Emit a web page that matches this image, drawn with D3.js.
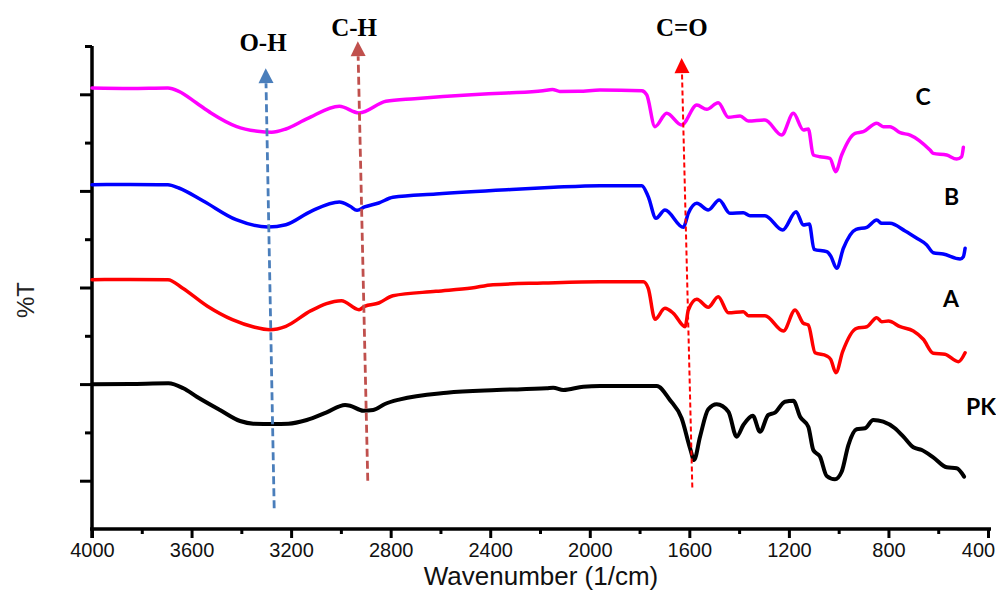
<!DOCTYPE html>
<html><head><meta charset="utf-8">
<script src="https://cdn.jsdelivr.net/npm/d3@7"></script>
<style>html,body{margin:0;padding:0;background:#fff;} svg{display:block}</style>
</head><body><svg id="chart" width="996" height="594"></svg>
<script>
// ---------- DATA ----------
const xTickLabels = [4000,3600,3200,2800,2400,2000,1600,1200,800,400];
const seriesNames = ["C","B","A","PK"];

const wnC = [4000,3847,3695,3651,3580,3522,3421,3335,3278,3221,3135,3006,2927,2819,2704,2475,2333,2188,2150,2120,2044,1959,1791,1771,1738,1691,1631,1570,1530,1484,1443,1396,1363,1296,1229,1182,1142,1122,1102,1075,1035,1012,988,934,901,847,821,794,753,713,633,620,566,526,506,499];
const tC  = [91.3,91.2,91.3,90.62,88.2,86.13,83.37,82.34,82.13,82.82,84.95,87.52,86.13,88.55,89.09,89.92,90.27,90.75,91.0,90.6,90.62,90.89,90.75,89.86,83.29,86.07,83.64,87.78,86.89,88.26,85.24,85.51,84.47,84.68,81.57,86.07,82.61,82.82,77.43,77.08,76.75,73.98,77.43,81.92,82.26,84.0,83.29,83.29,82.05,81.57,78.47,77.78,77.43,76.6,77.08,79.03];

const wnB = [4000,3847,3695,3651,3551,3421,3293,3221,3120,3006,2963,2935,2905,2848,2791,2618,2333,2145,1959,1791,1765,1734,1698,1624,1604,1570,1524,1480,1437,1383,1356,1296,1225,1171,1142,1118,1099,1048,1032,1008,981,930,887,847,827,794,733,686,646,620,580,512,499,492];
const tB  = [71.28,71.32,71.28,70.6,67.85,64.04,62.53,63.0,65.78,67.7,66.81,65.98,66.67,67.49,68.68,69.36,70.25,70.75,71.08,71.08,68.8,64.33,66.05,62.46,65.36,67.43,66.05,68.12,65.36,65.49,64.87,64.87,61.9,65.69,62.94,63.15,57.91,57.41,56.52,53.98,58.12,62.05,62.46,63.98,63.29,63.29,61.7,60.19,58.8,57.2,56.94,55.9,56.38,58.12];

const wnA = [4000,3847,3695,3637,3536,3436,3350,3285,3221,3120,2998,2927,2905,2848,2791,2618,2475,2389,2188,1959,1785,1765,1738,1698,1664,1617,1604,1570,1524,1484,1443,1383,1363,1296,1222,1175,1142,1122,1095,1048,1032,1011,984,928,887,847,827,800,753,700,660,620,573,519,492];
const tA  = [51.61,51.66,51.61,49.9,46.11,43.33,41.82,41.26,41.97,45.2,47.27,45.4,46.11,46.79,48.3,49.21,49.9,50.58,50.93,51.2,51.2,49.83,43.42,45.69,44.66,41.88,45.34,47.56,45.9,48.1,44.78,44.99,44.16,44.16,40.99,45.34,42.59,42.24,36.5,35.82,35.13,32.36,36.71,41.55,41.88,43.75,42.92,43.06,41.88,40.99,39.28,36.38,36.17,34.64,36.5];

const wnPK = [3999,3847,3693,3633,3579,3486,3405,3352,3272,3211,3137,3057,2983,2963,2910,2870,2823,2762,2575,2374,2173,2147,2106,2026,1959,1731,1678,1631,1597,1581,1557,1524,1490,1443,1410,1383,1345,1316,1283,1256,1216,1182,1155,1122,1102,1075,1048,1015,988,961,928,894,861,821,774,740,700,666,620,566,526,496];
const tPK  = [29.96,30.02,30.17,29.13,27.39,24.64,22.36,21.8,21.74,21.8,22.57,24.16,25.67,25.53,24.49,24.64,25.88,26.85,28.22,28.78,29.13,29.25,28.78,29.46,29.61,29.61,26.71,22.92,16.71,14.29,19.11,24.78,25.82,24.29,19.11,21.53,23.46,20.14,23.6,24.08,26.36,26.56,23.25,21.18,16.36,14.97,10.97,10.29,11.86,17.39,20.64,20.85,22.57,22.22,20.85,19.11,16.92,16.36,14.84,12.77,12.57,10.83];

// series labels (position in data units)
const seriesLabelWn = [661, 546, 549, 488];
const seriesLabelT  = [87.8, 67.1, 46.0, 23.6];

// band annotations
const annoLabels   = ["O-H","C-H","C=O"];
const annoWnBottom = [3268, 2892, 1588];
const annoTBottom  = [4.3, 10.0, 8.6];
const annoWnTip    = [3302, 2932, 1631];
const annoTTip     = [95.4, 101.0, 97.5];
const annoLabelWn  = [3313, 2947, 1630];
const annoLabelT   = [99.0, 102.1, 102.1];

// ---------- STYLE ----------
const seriesColors = {C:"#ff00ff", B:"#0000ff", A:"#ff0000", PK:"#000000"};
const annoColors = ["#4a7ebb", "#c0504d", "#ff0000"];

const svg = d3.select("#chart");
const x = d3.scaleLinear().domain([4000, 400]).range([92, 988]);
const y = d3.scaleLinear().domain([0, 100]).range([529, 46]);

const seriesData = {
  C: wnC.map((w,i)=>({w, t:tC[i]})),
  B: wnB.map((w,i)=>({w, t:tB[i]})),
  A: wnA.map((w,i)=>({w, t:tA[i]})),
  PK: wnPK.map((w,i)=>({w, t:tPK[i]}))
};

// axes
const minorX = d3.range(3800, 399, -400);
const gx = svg.append("g").attr("transform", `translate(0,${y(0)})`);
gx.call(d3.axisBottom(x).tickValues(xTickLabels).tickSize(9).tickPadding(5).tickFormat(d3.format("d")));
const gx2 = svg.append("g").attr("transform", `translate(0,${y(0)})`);
gx2.call(d3.axisBottom(x).tickValues(minorX).tickSize(5).tickFormat(""));
[gx, gx2].forEach(g => {
  g.select(".domain").remove();
  g.selectAll(".tick line").attr("stroke", "#000").attr("stroke-width", 3);
});
gx.selectAll(".tick text").attr("font-family", "Liberation Sans, Arial, sans-serif")
  .attr("font-size", 20).attr("fill", "#111")
  .attr("dx", d => d === 400 ? -10 : 0);

const gy = svg.append("g").attr("transform", `translate(${x(4000)},0)`);
gy.call(d3.axisLeft(y).tickValues([10,30,50,70,90]).tickSize(12).tickFormat(""));
const gy2 = svg.append("g").attr("transform", `translate(${x(4000)},0)`);
gy2.call(d3.axisLeft(y).tickValues([20,40,60,80,100]).tickSize(7).tickFormat(""));
[gy, gy2].forEach(g => {
  g.select(".domain").remove();
  g.selectAll(".tick line").attr("stroke", "#000").attr("stroke-width", 3);
});
// axis lines
svg.append("line").attr("x1", x(4000)).attr("x2", x(4000)).attr("y1", y(100)).attr("y2", y(0) + 9)
  .attr("stroke", "#000").attr("stroke-width", 3.5);
svg.append("line").attr("x1", x(4000) - 2).attr("x2", x(400) + 3).attr("y1", y(0)).attr("y2", y(0))
  .attr("stroke", "#000").attr("stroke-width", 3.5);

// titles
svg.append("text").attr("x", 541).attr("y", 585).attr("text-anchor", "middle")
  .attr("font-family", "Liberation Sans, Arial, sans-serif").attr("font-size", 26).attr("fill", "#111")
  .text("Wavenumber (1/cm)");
svg.append("text").attr("transform", "translate(25,300) rotate(-90)").attr("text-anchor", "middle")
  .attr("dominant-baseline", "central")
  .attr("font-family", "Liberation Sans, Arial, sans-serif").attr("font-size", 24).attr("fill", "#222")
  .text("%T");

// series
const line = d3.line().x(d => x(d.w)).y(d => y(d.t)).curve(d3.curveMonotoneX);
seriesNames.forEach((n, i) => {
  svg.append("path").datum(seriesData[n]).attr("d", line)
    .attr("fill", "none").attr("stroke", seriesColors[n])
    .attr("stroke-width", n === "PK" ? 4 : 3.5)
    .attr("stroke-linejoin", "round").attr("stroke-linecap", "round");
  svg.append("text").attr("x", x(seriesLabelWn[i])).attr("y", y(seriesLabelT[i]))
    .attr("text-anchor", n === "PK" ? "start" : "middle")
    .attr("font-family", "Lato, 'Open Sans', sans-serif").attr("font-weight", 700)
    .attr("font-size", 23).attr("fill", "#000").text(n);
});

// annotations
annoLabels.forEach((lab, i) => {
  const x0 = x(annoWnBottom[i]), y0 = y(annoTBottom[i]);
  const x1 = x(annoWnTip[i]), y1 = y(annoTTip[i]);
  const dx = x1 - x0, dy = y1 - y0, len = Math.hypot(dx, dy);
  const ux = dx / len, uy = dy / len;
  const hl = 15, hw = 7.5;
  const bx = x1 - ux * hl, by = y1 - uy * hl;
  svg.append("line").attr("x1", x0).attr("y1", y0).attr("x2", bx).attr("y2", by)
    .attr("stroke", annoColors[i]).attr("stroke-width", i === 2 ? 2 : 2.8)
    .attr("stroke-dasharray", i === 2 ? "5,3" : "8,4");
  const px = -uy, py = ux;
  svg.append("path")
    .attr("d", `M${x1},${y1}L${bx + px*hw},${by + py*hw}L${bx - px*hw},${by - py*hw}Z`)
    .attr("fill", annoColors[i]);
  svg.append("text").attr("x", x(annoLabelWn[i])).attr("y", y(annoLabelT[i]))
    .attr("text-anchor", "middle")
    .attr("font-family", "Liberation Serif, 'Times New Roman', serif").attr("font-weight", 700)
    .attr("font-size", 25).attr("fill", "#000").text(lab);
});
</script>
</body></html>
